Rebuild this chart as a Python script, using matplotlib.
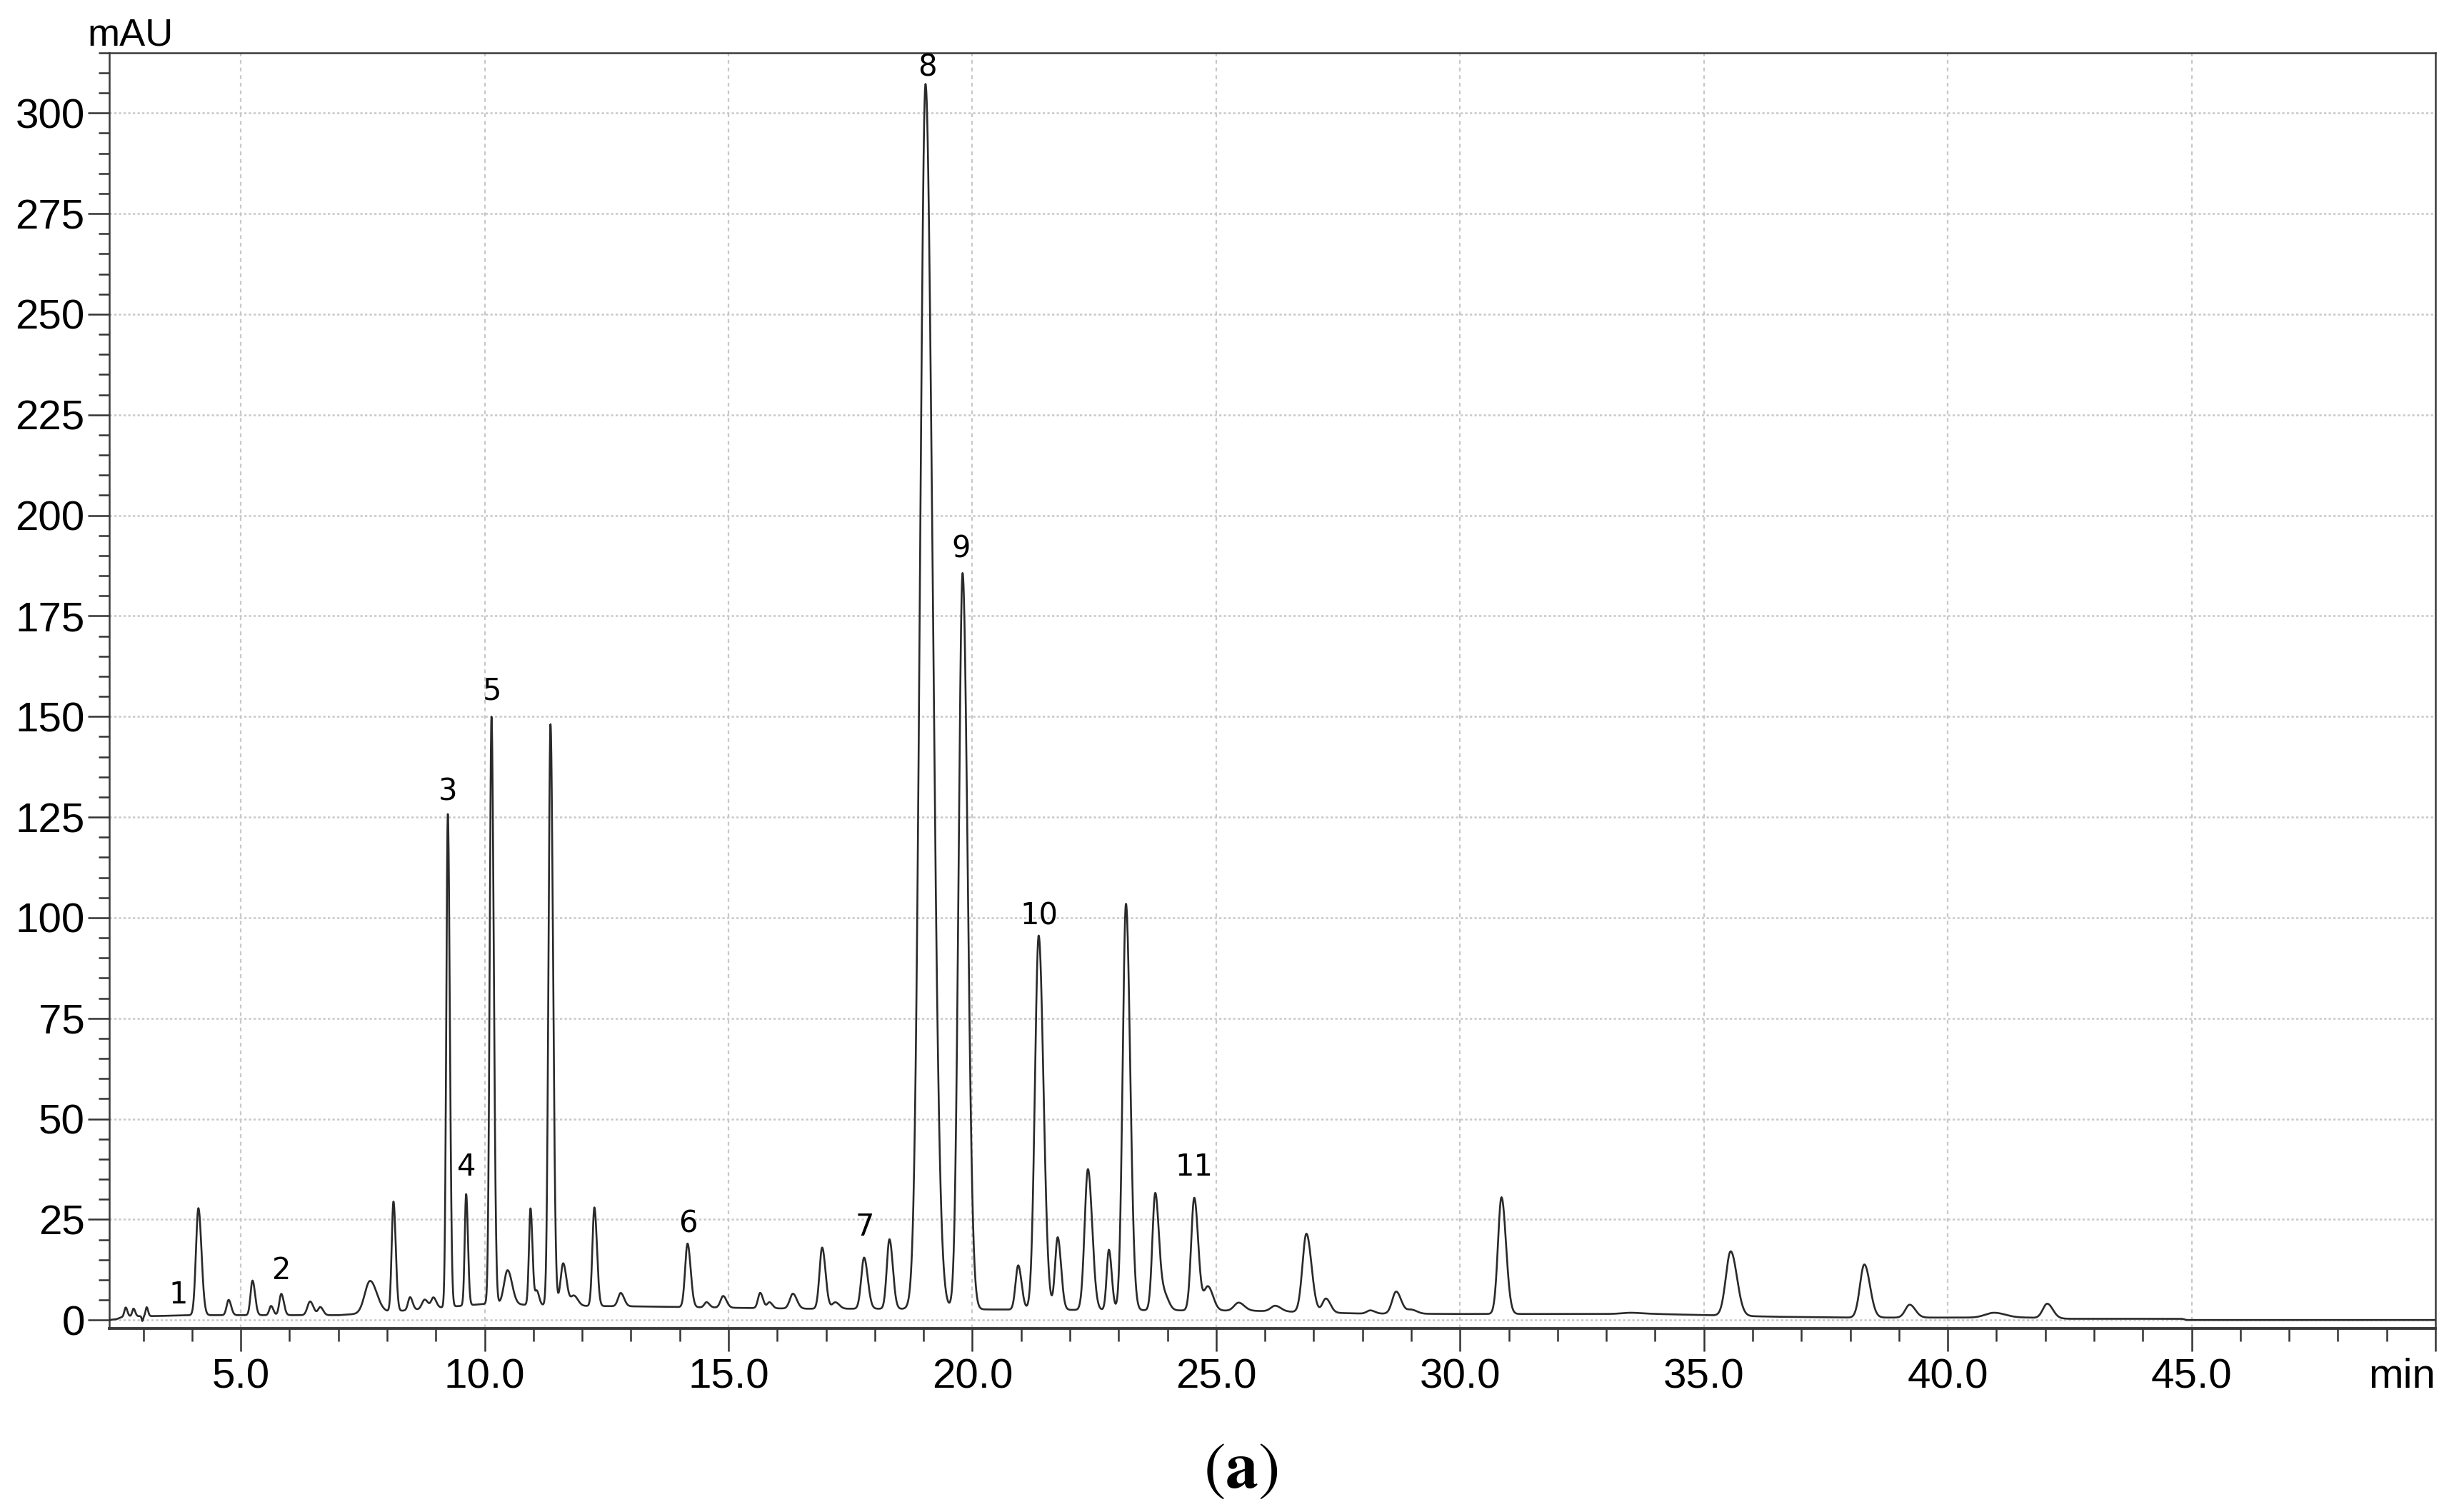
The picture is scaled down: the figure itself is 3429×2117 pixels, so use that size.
import numpy as np
import matplotlib
matplotlib.use("Agg")
import matplotlib.pyplot as plt
from matplotlib.ticker import MultipleLocator, FixedLocator, FixedFormatter

# ---- Data ----
# Peak table: retention time (min), height above baseline (mAU), width (sigma, min)
peak_rt = [2.64, 2.80, 2.98, 3.07, 4.13, 4.75, 5.24, 5.62, 5.83, 6.42, 6.63, 7.65,
           8.13, 8.47, 8.77, 8.95, 9.245, 9.62, 10.14, 10.47, 10.94, 11.07, 11.35,
           11.61, 11.83, 12.25, 12.79, 14.16, 14.55, 14.89, 15.65, 15.84, 16.32,
           16.92, 17.19, 17.78, 18.30, 19.04, 19.80, 20.94, 21.36, 21.75, 22.37,
           22.80, 23.15, 23.75, 23.93, 24.55, 24.83, 25.46, 26.21, 26.85, 27.25,
           28.16, 28.69, 29.00, 30.85, 33.50, 35.55, 38.29, 39.22, 40.95, 42.04]
peak_height = [2.2, 1.9, -1.2, 2.2, 26.6, 3.8, 8.6, 2.3, 5.3, 3.4, 2.0, 8.0,
               27.3, 3.2, 2.3, 2.6, 122.5, 27.7, 146.0, 8.5, 24.0, 3.5, 144.5,
               10.5, 2.5, 24.5, 3.3, 15.8, 1.3, 2.9, 3.8, 1.5, 3.7,
               15.2, 1.6, 12.7, 17.3, 304.5, 183.0, 11.0, 93.0, 18.0, 35.0,
               15.0, 101.0, 29.0, 4.0, 28.0, 6.0, 2.0, 1.4, 19.5, 3.5,
               0.8, 5.5, 1.0, 29.0, 0.3, 16.0, 13.2, 3.2, 1.2, 3.6]
peak_sigma = [0.03, 0.03, 0.015, 0.025, 0.055, 0.045, 0.045, 0.04, 0.045, 0.06, 0.05, 0.12,
              0.04, 0.045, 0.06, 0.05, 0.035, 0.032, 0.04, 0.08, 0.035, 0.04, 0.045,
              0.06, 0.07, 0.045, 0.06, 0.055, 0.05, 0.06, 0.05, 0.05, 0.07,
              0.06, 0.07, 0.065, 0.06, 0.125, 0.09, 0.06, 0.085, 0.06, 0.075,
              0.05, 0.075, 0.065, 0.08, 0.07, 0.09, 0.1, 0.1, 0.09, 0.08,
              0.08, 0.09, 0.1, 0.08, 0.2, 0.11, 0.10, 0.1, 0.2, 0.1]

# Baseline level read at peak-free points
baseline_t = [2.3, 2.45, 2.6, 3.3, 4.0, 7.0, 8.0, 9.0, 10.0, 12.0, 13.0, 15.3,
              16.6, 18.0, 20.6, 25.7, 28.0, 30.0, 34.0, 36.5, 38.0, 41.6, 42.5,
              44.8, 44.9, 50.0]
baseline_v = [0.0, 0.2, 0.9, 1.0, 1.2, 1.2, 2.0, 3.0, 4.0, 3.5, 3.4, 3.0,
              2.8, 2.8, 2.6, 2.3, 1.6, 1.5, 1.5, 0.8, 0.6, 0.6, 0.3,
              0.3, 0.0, 0.0]

# Numbered peak annotations
label_text = ["1", "2", "3", "4", "5", "6", "7", "8", "9", "10", "11"]
label_rt = [3.72, 5.84, 9.245, 9.63, 10.15, 14.17, 17.80, 19.07, 19.77, 21.37, 24.55]
label_mau = [6.3, 12.2, 131.3, 38.1, 156.4, 23.9, 23.1, 311.3, 191.7, 100.5, 38.1]

x_ticks = [5.0, 10.0, 15.0, 20.0, 25.0, 30.0, 35.0, 40.0, 45.0]
y_ticks = [0, 25, 50, 75, 100, 125, 150, 175, 200, 225, 250, 275, 300]

# ---- Build trace ----
t = np.linspace(2.3, 50.0, 12000)
signal = np.interp(t, baseline_t, baseline_v)
for rt, h, s in zip(peak_rt, peak_height, peak_sigma):
    sl, sr = 0.9 * s, 1.15 * s
    sig = np.where(t < rt, sl, sr)
    signal = signal + h * np.exp(-0.5 * ((t - rt) / sig) ** 2)

# ---- Figure ----
DPI = 200
fig = plt.figure(figsize=(3430 / DPI, 2117 / DPI), dpi=DPI)
ax = fig.add_axes([0.04455, 0.1214, 0.99417 - 0.04455, 0.96519 - 0.1214])

ax.plot(t, signal, color="#2a2a2a", lw=0.95, zorder=3)

ax.set_xlim(2.3, 50.0)
ax.set_ylim(-2.1, 315)

# grid
for xv in x_ticks:
    ax.axvline(xv, color="#c8c8c8", lw=0.8, dashes=(2.4, 2.4), zorder=1)
for yv in y_ticks:
    ax.axhline(yv, color="#c8c8c8", lw=0.9, dashes=(1.3, 1.3), zorder=1)

tick_family = ["Liberation Sans", "DejaVu Sans"]
tick_size = 21
ax.xaxis.set_major_locator(FixedLocator(x_ticks + [50.0]))
ax.xaxis.set_major_formatter(FixedFormatter([f"{v:.1f}" for v in x_ticks] + [""]))
ax.xaxis.set_minor_locator(MultipleLocator(1.0))
ax.yaxis.set_major_locator(FixedLocator(y_ticks))
ax.yaxis.set_major_formatter(FixedFormatter([str(v) for v in y_ticks]))
ax.yaxis.set_minor_locator(MultipleLocator(5))

ax.tick_params(axis="x", which="major", direction="out", length=11.5, width=0.9,
               color="#333333", pad=3.5)
ax.tick_params(axis="x", which="minor", direction="out", length=6.5, width=0.9,
               color="#333333")
ax.tick_params(axis="y", which="major", direction="out", length=10.8, width=0.9,
               color="#333333", pad=1.5)
ax.tick_params(axis="y", which="minor", direction="out", length=5.4, width=0.9,
               color="#333333")
for lab in ax.get_xticklabels() + ax.get_yticklabels():
    lab.set_fontfamily(tick_family)
    lab.set_fontsize(tick_size)
    lab.set_color("black")

for side, sp in ax.spines.items():
    sp.set_color("#3a3a3a")
    sp.set_linewidth(0.9)
ax.spines["bottom"].set_linewidth(1.4)

# axis unit labels
fig.text(0.0356, 0.9702, "mAU", ha="left", va="baseline",
         family=tick_family, size=19.5)
fig.text(0.99417, 0.0822, "min", ha="right", va="baseline",
         family=tick_family, size=tick_size)

# peak numbers
for txt, xv, yv in zip(label_text, label_rt, label_mau):
    ax.text(xv, yv, txt, ha="center", va="center", family=["DejaVu Sans"],
            size=15, color="black", zorder=4)

# panel caption
plt.rcParams["mathtext.fontset"] = "stix"
fig.text(0.5064, 0.0283, r"$(\mathbf{a})$", ha="center", va="center", size=33)

fig.savefig("out.png", dpi=DPI, facecolor="white")
